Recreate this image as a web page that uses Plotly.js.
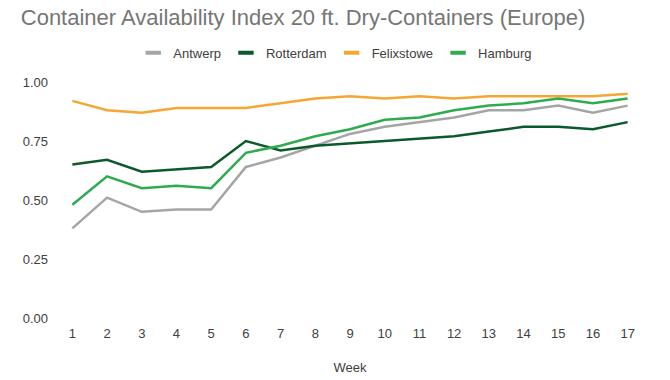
<!DOCTYPE html>
<html>
<head>
<meta charset="utf-8">
<script src="https://cdn.plot.ly/plotly-3.0.1.min.js"></script>
<style>html,body{margin:0;padding:0;background:#fff}#chart{width:670px;height:380px}</style>
</head>
<body>
<div id="chart"></div>
<script>
const weeks = [1,2,3,4,5,6,7,8,9,10,11,12,13,14,15,16,17];
const antwerp    = [0.38,0.51,0.45,0.46,0.46,0.64,0.68,0.73,0.78,0.81,0.83,0.85,0.88,0.88,0.90,0.87,0.90];
const rotterdam  = [0.65,0.67,0.62,0.63,0.64,0.75,0.71,0.73,0.74,0.75,0.76,0.77,0.79,0.81,0.81,0.80,0.83];
const felixstowe = [0.92,0.88,0.87,0.89,0.89,0.89,0.91,0.93,0.94,0.93,0.94,0.93,0.94,0.94,0.94,0.94,0.95];
const hamburg    = [0.48,0.60,0.55,0.56,0.55,0.70,0.73,0.77,0.80,0.84,0.85,0.88,0.90,0.91,0.93,0.91,0.93];
const seriesNames = ['Antwerp','Rotterdam','Felixstowe','Hamburg'];
const seriesColors = ['#a5a5a5','#0b5a2c','#f5a733','#2eab4f'];
const seriesData = [antwerp, rotterdam, felixstowe, hamburg];
const yTicks = [0, 0.25, 0.5, 0.75, 1.0];
const FONT = "'Liberation Sans', Arial, sans-serif";

const traces = [];
seriesData.forEach((d, i) => {
  traces.push({x: weeks, y: d, type: 'scatter', mode: 'lines', name: seriesNames[i],
    line: {color: seriesColors[i], width: 2.5}, showlegend: false, hoverinfo: 'skip'});
});
seriesData.forEach((d, i) => {
  traces.push({x: [null], y: [null], type: 'scatter', mode: 'markers', name: seriesNames[i],
    marker: {symbol: 'line-ew-open', size: 11, color: seriesColors[i], line: {color: seriesColors[i], width: 4}}, showlegend: true});
});

const layout = {
  width: 670, height: 380,
  margin: {l: 55, r: 25, t: 82, b: 62},
  paper_bgcolor: '#fff', plot_bgcolor: '#fff',
  font: {family: FONT, color: '#404040', size: 13},
  title: {text: 'Container Availability Index 20 ft. Dry-Containers (Europe)',
    x: 0.031, xanchor: 'left', y: 0.954, yanchor: 'middle',
    font: {size: 22, color: '#767676', family: FONT}},
  showlegend: true,
  legend: {orientation: 'h', x: 0.475, xanchor: 'center', y: 1.124, yanchor: 'middle',
    font: {size: 13, color: '#404040', family: FONT}, itemwidth: 30, traceorder: 'normal'},
  xaxis: {range: [0.5, 17.5], tickmode: 'array', tickvals: weeks, ticktext: weeks.map(String),
    showgrid: false, zeroline: false, showline: false, ticks: '', ticklabelstandoff: 6,
    tickfont: {size: 13, color: '#404040', family: FONT},
    title: {text: 'Week', font: {size: 13, color: '#404040', family: FONT}, standoff: 22}},
  yaxis: {range: [0, 1.0], tickmode: 'array', tickvals: yTicks, ticktext: yTicks.map(v => v.toFixed(2)),
    showgrid: false, zeroline: false, showline: false, ticks: '', ticklabelstandoff: 6,
    tickfont: {size: 13, color: '#404040', family: FONT}}
};

Plotly.newPlot('chart', traces, layout, {displayModeBar: false, staticPlot: true});
</script>
</body>
</html>
